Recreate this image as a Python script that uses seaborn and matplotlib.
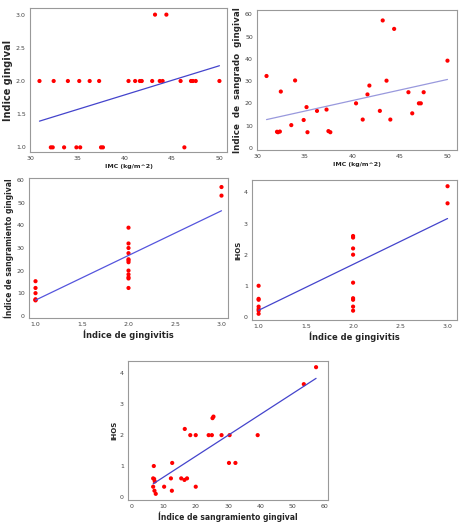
import matplotlib
matplotlib.use("Agg")
import matplotlib.pyplot as plt
import seaborn as sns
import numpy as np

sns.set_theme(style="white")
plt.rcParams['font.family'] = ['DejaVu Sans']

imc1 = [31,32.2,32.4,32.5,33.6,34,34.9,35.2,35.3,36.3,37.3,37.5,37.7,40.4,41.1,41.6,41.8,42.9,43.2,43.7,44,44.4,45.9,46.3,47,47.2,47.5,50]
gin1 = [2,1,1,2,1,2,1,2,1,2,2,1,1,2,2,2,2,2,3,2,2,3,2,1,2,2,2,2]

imc2 = [31,32.1,32.2,32.4,32.5,33.6,34,34.9,35.2,35.3,36.3,37.3,37.5,37.7,40.4,41.1,41.6,41.8,42.9,43.2,43.6,44,44.4,45.9,46.3,47,47.2,47.5,50]
sang2 = [32.3,7.2,7,7.3,25.3,10.2,30.3,12.5,18.3,7,16.6,17.2,7.5,7,20,12.7,24,28,16.6,57.3,30.2,12.7,53.5,25,15.5,20,20,25,39.2]

gin3 = [1]*6 + [2]*12 + [3]*2
sang3 = [15.3,12.3,10,7.3,7,6.8, 39,32,30,27.7,25,24.5,23.7,20,18.3,17,16.5,12.3, 57,53.2]

gin4 = [1]*7 + [2]*9 + [3]*2
ihos4 = [1,0.58,0.55,0.33,0.25,0.2,0.1, 2.6,2.55,2.2,2,1.1,0.6,0.55,0.33,0.2, 4.2,3.65]

sang5 = [7,6.8,7.1,7.3,6.8,7.2,7.6,10.2,12.3,12.7,12.6,15.5,16.5,16.6,17.3,18.3,20,20,24,25,25.2,25.5,28,30.3,30.5,32.3,39.2,53.5,57.3]
ihos5 = [1,0.6,0.58,0.5,0.33,0.2,0.1,0.33,0.6,1.1,0.2,0.6,0.55,2.2,0.6,2,2,0.33,2,2,2.55,2.6,2,1.1,2,1.1,2,3.65,4.2]

W, H = 469, 524
fig = plt.figure(figsize=(W/100, H/100), dpi=100)

def ax_at(l, t, r, b):
    return fig.add_axes([l/W, 1-b/H, (r-l)/W, (b-t)/H])

def panel(ax, x, y, xl, yl, line_color, xlim, ylim, xt, yt, yfmt, xfmt, ylsize=7, xlsize=6):
    sns.regplot(x=np.array(x, float), y=np.array(y, float), ax=ax, ci=None, truncate=True,
                scatter_kws=dict(color="red", s=9, edgecolor="none", alpha=1),
                line_kws=dict(color=line_color, lw=0.9))
    ax.set_xlim(*xlim); ax.set_ylim(*ylim)
    ax.set_xticks(xt); ax.set_yticks(yt)
    ax.set_xticklabels([xfmt.format(v) for v in xt])
    ax.set_yticklabels([yfmt.format(v) for v in yt])
    ax.tick_params(labelsize=4.5, length=2, width=0.5, pad=1, colors="#444444")
    ax.set_xlabel(xl, fontsize=xlsize, fontweight="bold", labelpad=2)
    ax.set_ylabel(yl, fontsize=ylsize, fontweight="bold", labelpad=2)
    for s in ax.spines.values():
        s.set_color("#999999"); s.set_linewidth(0.8)

a1 = ax_at(30, 8, 227, 152)
panel(a1, imc1, gin1, "IMC (kg/m^2)", "Indice gingival", "#4444cc", (30.3, 50.8), (0.93, 3.1),
      [30,35,40,45,50], [1.0,1.5,2.0,2.5,3.0], "{:.1f}", "{:g}", ylsize=7, xlsize=4.5)
a2 = ax_at(257, 10, 457, 150)
panel(a2, imc2, sang2, "IMC (kg/m^2)", "Indice  de  sangrado  gingival", "#9999dd", (30.3, 51), (-1, 62),
      [30,35,40,45,50], [0,10,20,30,40,50,60], "{:g}", "{:g}", ylsize=6.3, xlsize=4.5)
a3 = ax_at(29, 178, 228, 318)
panel(a3, gin3, sang3, "Índice de gingivitis", "Índice de sangramiento gingival", "#5555dd", (0.93, 3.07), (-1, 61),
      [1.0,1.5,2.0,2.5,3.0], [0,10,20,30,40,50,60], "{:g}", "{:.1f}", ylsize=5.5, xlsize=6)
a4 = ax_at(252, 180, 457, 320)
panel(a4, gin4, ihos4, "Índice de gingivitis", "IHOS", "#4444cc", (0.93, 3.1), (-0.1, 4.4),
      [1.0,1.5,2.0,2.5,3.0], [0,1,2,3,4], "{:g}", "{:.1f}", ylsize=5, xlsize=6)
a5 = ax_at(128, 361, 328, 500)
panel(a5, sang5, ihos5, "Índice de sangramiento gingival", "IHOS", "#4444cc", (-1, 61), (-0.1, 4.4),
      [0,10,20,30,40,50,60], [0,1,2,3,4], "{:g}", "{:g}", ylsize=5, xlsize=5.5)

fig.savefig("out.png", dpi=100)
